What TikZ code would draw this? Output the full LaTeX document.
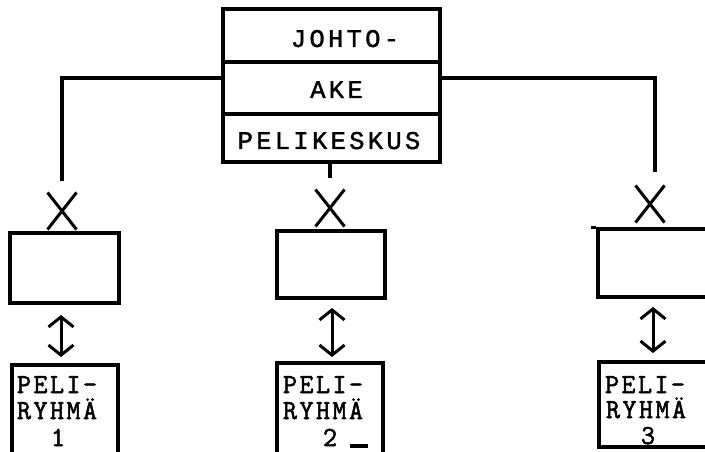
\documentclass[tikz,border=0pt]{standalone}
\usepackage{fontspec}
\newfontfamily\topfont[FakeBold=1.5]{Liberation Mono}
\newfontfamily\lowfont[FakeBold=1.8]{Latin Modern Mono}
\usetikzlibrary{arrows.meta,shapes.misc}
\newlength\pitch
\def\spacedchars#1{\ifx#1\relax\else\makebox[\pitch]{#1}\expandafter\spacedchars\fi}
\newcommand\spaced[2]{\setlength\pitch{#1}\spacedchars#2\relax}
\tikzset{
  ln/.style={line width=3.3pt},
  box/.style={draw, ln, rectangle, inner sep=0pt},
  toptext/.style={inner sep=0pt, anchor=base, font=\topfont\fontsize{25.5}{26}\selectfont},
  lowtext/.style={inner sep=0pt, anchor=base, font=\lowfont\fontsize{27.5}{28}\selectfont},
  xmark/.style={draw, cross out, line width=3pt, inner sep=0pt, minimum width=26pt, minimum height=34pt},
  dbl/.style={line width=3pt, {Straight Barb[length=10pt,width=25pt]}-{Straight Barb[length=10pt,width=25pt]}}
}
\begin{document}
\begin{tikzpicture}[x=1pt,y=-1pt]
\useasboundingbox (0,0) rectangle (705,452);
\clip (0,0) rectangle (705,452);
% top stack
\node[box, minimum width=217pt, minimum height=53pt] (johto) at (331.5,35.5) {};
\node[box, minimum width=217pt, minimum height=52pt] (ake) at (331.5,88) {};
\node[box, minimum width=217pt, minimum height=48pt] (pk) at (331.5,138) {};
\node[toptext] (tj) at (345,47) {\spaced{18.6pt}{JOHTO-}};
\node[toptext] (ta) at (336.5,98) {\spaced{18.6pt}{AKE}};
\node[toptext] (tp) at (329,149) {\spaced{18.6pt}{PELIKESKUS}};
% connectors from stack
\coordinate (hL) at (62,78);
\coordinate (hR) at (655,78);
\coordinate (eL) at (62,181);
\coordinate (eR) at (655,172);
\coordinate (eC) at (330,178);
\draw[ln] (eL) |- (ake.west |- hL);
\draw[ln] (eR) |- (ake.east |- hR);
\draw[ln] (pk.south -| eC) -- (eC);
% crosses
\node[xmark] (x1) at (62,211) {};
\node[xmark] (x2) at (330,208) {};
\node[xmark] (x3) at (650,204) {};
% middle boxes
\node[box, minimum width=109pt, minimum height=70pt] (b1) at (64.5,268) {};
\node[box, minimum width=108pt, minimum height=67pt] (b2) at (331,264.5) {};
\node[box, minimum width=122pt, minimum height=68pt] (b3) at (659,263) {};
\draw[ln] (b3.north west) -- ++(-5,0);
% arrows
\coordinate (a1t) at (61,315); \coordinate (a1b) at (61,357);
\coordinate (a2t) at (332,308); \coordinate (a2b) at (332,357);
\coordinate (a3t) at (653,307); \coordinate (a3b) at (653,353);
\draw[dbl] (a1t) -- (a1b);
\draw[dbl] (a2t) -- (a2b);
\draw[dbl] (a3t) -- (a3b);
% PELIRYHMA boxes
\node[box, minimum width=106pt, minimum height=105pt] (p1) at (65,417.5) {};
\node[box, minimum width=106pt, minimum height=107pt] (p2) at (330,416.5) {};
\node[box, minimum width=116pt, minimum height=85pt] (p3) at (657,404.5) {};
\draw[ln] (350,446) -- (368,446);
% texts
\node[lowtext] (p1a) at (57,393) {\spaced{16.5pt}{PELI-}};
\node[lowtext] (p1b) at (57,419) {\spaced{16.5pt}{RYHMÄ}};
\node[lowtext] (p1c) at (58,446) {1};
\node[lowtext] (p2a) at (323,393) {\spaced{16.5pt}{PELI-}};
\node[lowtext] (p2b) at (323,419) {\spaced{16.5pt}{RYHMÄ}};
\node[lowtext] (p2c) at (330,446) {2};
\node[lowtext] (p3a) at (645,393) {\spaced{16.5pt}{PELI-}};
\node[lowtext] (p3b) at (646,418) {\spaced{16.5pt}{RYHMÄ}};
\node[lowtext] (p3c) at (648,444) {3};
\end{tikzpicture}
\end{document}
